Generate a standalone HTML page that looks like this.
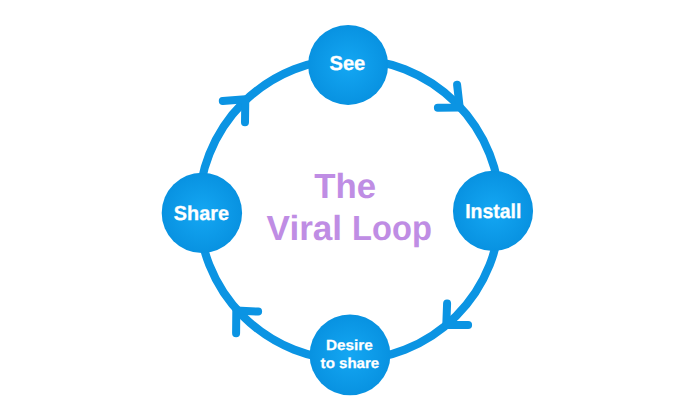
<!DOCTYPE html>
<html lang="en">
<head>
<meta charset="utf-8">
<title>The Viral Loop</title>
<style>
  html, body { margin: 0; padding: 0; background: #ffffff; }
  body { width: 698px; height: 420px; overflow: hidden; position: relative;
         font-family: "Liberation Sans", sans-serif; }
  svg { position: absolute; left: 0; top: 0; display: block; }
  text { font-family: "Liberation Sans", sans-serif; font-weight: bold; text-anchor: middle; text-rendering: geometricPrecision; }
  .node { fill: #ffffff; stroke: #ffffff; stroke-width: 0.3px; font-size: 20.2px; }
  .small { fill: #ffffff; stroke: #ffffff; stroke-width: 0.25px; font-size: 14.6px; }
  .title { fill: #bf8de4; font-size: 34.8px; }
</style>
</head>
<body>
<svg width="698" height="420" viewBox="0 0 698 420">
  <defs>
    <radialGradient id="g" cx="50%" cy="50%" r="50%">
      <stop offset="0" stop-color="#14a7f3"/>
      <stop offset="1" stop-color="#0892e1"/>
    </radialGradient>
  </defs>
  <rect width="698" height="420" fill="#ffffff"/>
  <!-- ring -->
  <circle cx="349.5" cy="209.5" r="150.7" fill="none" stroke="#0b94e3" stroke-width="8.2"/>
  <!-- arrowheads -->
  <g fill="none" stroke="#0b94e3" stroke-width="8" stroke-linecap="round" stroke-linejoin="round">
    <polyline points="457.1,84.7 459.7,107.5 437.9,107.8"/>
    <polyline points="447.1,303.4 446.3,324.9 468.1,324.9"/>
    <polyline points="236.1,333.2 236.3,310.5 258.1,311.6"/>
    <polyline points="222.8,100.9 245.3,99.3 245,122.3"/>
  </g>
  <!-- nodes -->
  <circle cx="348.1" cy="64.9" r="40" fill="url(#g)"/>
  <circle cx="493" cy="210.9" r="40.05" fill="url(#g)"/>
  <circle cx="350.0" cy="354.9" r="40.4" fill="url(#g)"/>
  <circle cx="201.9" cy="212.9" r="40.2" fill="url(#g)"/>
  <text class="node" transform="translate(347.35 69.75) scale(0.997 1)">See</text>
  <text class="node" transform="translate(493.3 217.95) scale(0.964 1)">Install</text>
  <text class="node" transform="translate(201.35 220.0) scale(0.982 1)">Share</text>
  <text class="small" transform="translate(349.4 350.4) scale(1.05 1)">Desire</text>
  <text class="small" transform="translate(349.9 368.15) scale(1.0315 1)">to share</text>
  <text class="title" transform="translate(345.3 197.9)">The</text>
  <text class="title" style="text-anchor:start" y="239.8"><tspan x="266.6" textLength="75.5" lengthAdjust="spacingAndGlyphs">Viral</tspan> <tspan x="352.1" textLength="79.8" lengthAdjust="spacingAndGlyphs">Loop</tspan></text>
</svg>
</body>
</html>
